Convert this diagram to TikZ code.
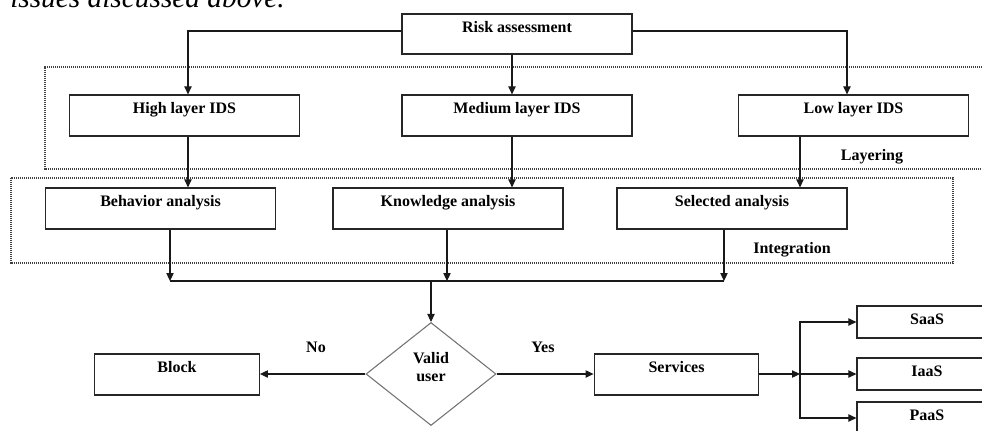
\documentclass[tikz,border=0pt]{standalone}
\usepackage{fontspec}
\setmainfont{Liberation Serif}
\usetikzlibrary{arrows.meta,shapes.geometric}
\begin{document}
\begin{tikzpicture}[x=0.75pt,y=-0.75pt,
  lbl/.style={font=\fontsize{12}{13.5}\selectfont\bfseries, inner sep=0pt},
  box/.style={lbl, draw=black!85, line width=0.9pt, text height=13.5pt},
  wide/.style={box, minimum width=172.5pt, text depth=17.25pt},
  mid/.style={box, minimum width=123.5pt, text depth=17.25pt},
  small/.style={box, minimum width=105pt, text depth=10.5pt},
  dia/.style={draw=black!55, line width=0.8pt, diamond, inner sep=0pt,
    minimum width=97.5pt, minimum height=77.25pt},
  ln/.style={draw=black!90, line width=0.8pt},
  arr/.style={ln, -{Triangle[length=6pt,width=5.5pt]}},
  grp/.style={draw=black!75, line width=1.3pt, dash pattern=on 0.9pt off 0.6pt}
]
\clip (0,0) rectangle (982,430);

% running text above the figure
\node[font=\fontsize{22}{24}\selectfont\itshape, inner sep=0pt, anchor=base west]
  (runin) at (10,7) {issues discussed above.};

% group frames
\draw[grp] (990,67) -- (45,67) -- (45,169) -- (990,169);
\draw[grp] (11,178) rectangle (953,263);
\node[lbl, anchor=base] (layering) at (872,160) {Layering};
\node[lbl, anchor=base] (integration) at (792,253) {Integration};

% boxes
\node[wide, text depth=16.5pt] (risk) at (517,34) {Risk assessment};
\node[wide] (high) at (184.5,115.5) {High layer IDS};
\node[wide] (med)  at (517,115.5) {Medium layer IDS};
\node[wide] (low)  at (853.5,115.5) {Low layer IDS};
\node[wide] (beh)  at (160.5,208.5) {Behavior analysis};
\node[wide] (know) at (448,208.5) {Knowledge analysis};
\node[wide] (sel)  at (732,208.5) {Selected analysis};
\node[dia] (valid) at (431,374) {};
\node[lbl, align=center] (validtxt) at (431,367) {Valid\\user};
\node[mid] (block) at (177,374.5) {Block};
\node[mid] (serv)  at (676.5,374.5) {Services};
\node[small] (saas) at (927,322) {SaaS};
\node[small] (iaas) at (927,374) {IaaS};
\node[small] (paas) at (927,418) {PaaS};
\node[lbl, anchor=base] (no)  at (316,352) {No};
\node[lbl, anchor=base] (yes) at (543,352) {Yes};

% helper coordinates for connector positions
\coordinate (tl) at (188,31);
\coordinate (tr) at (847,31);
\coordinate (mx) at (512,0);
\coordinate (lx) at (800,0);
\coordinate (j1) at (170,281);
\coordinate (j2) at (447,281);
\coordinate (j3) at (724,281);
\coordinate (jm) at (431,281);
\coordinate (br) at (800,374);

% connectors
\draw[arr] (risk.west |- tl) -| (high.north -| tl);
\draw[arr] (risk.east |- tr) -| (low.north -| tr);
\draw[arr] (risk.south -| mx) -- (med.north -| mx);
\draw[arr] (high.south -| tl) -- (beh.north -| tl);
\draw[arr] (med.south -| mx) -- (know.north -| mx);
\draw[arr] (low.south -| lx) -- (sel.north -| lx);
\draw[arr] (beh.south -| j1) -- (j1);
\draw[arr] (know.south -| j2) -- (j2);
\draw[arr] (sel.south -| j3) -- (j3);
\draw[ln] (j1) -- (j3);
\draw[arr] (jm) -- (valid.north);
\draw[arr] (valid.west) -- (valid.west -| block.east);
\draw[arr] (valid.east) -- (valid.east -| serv.west);
\draw[arr] (serv.east |- br) -- (br);
\draw[arr] (br) |- (saas.west);
\draw[arr] (br) -- (iaas.west);
\draw[arr] (br) |- (paas.west);
\end{tikzpicture}
\end{document}
